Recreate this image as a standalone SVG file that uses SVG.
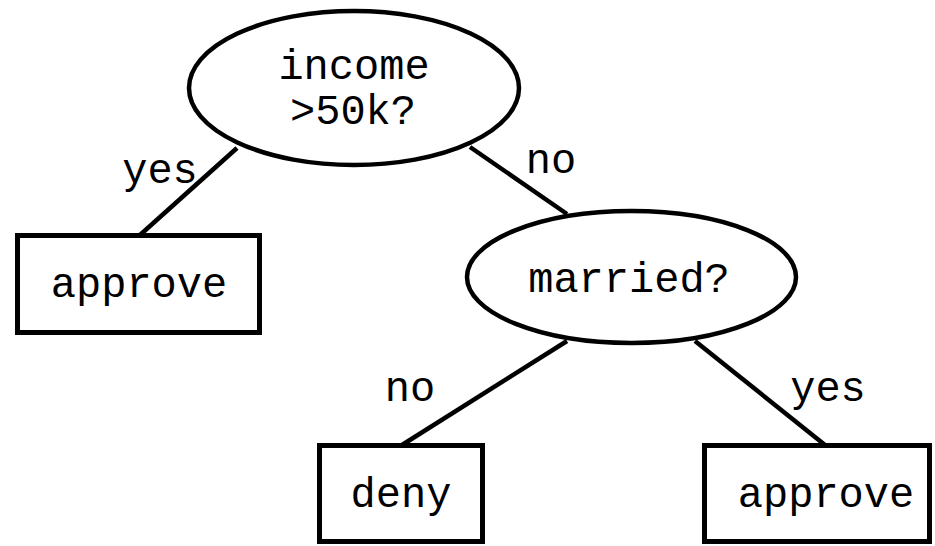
<svg xmlns="http://www.w3.org/2000/svg" width="935" height="546" viewBox="0 0 935 546">
<style>
.shape{fill:#fff;stroke:#000;stroke-width:4.5}
.box{fill:#fff;stroke:#000;stroke-width:5}
.edge{stroke:#000;stroke-width:4.5;fill:none}
text{font-family:"Liberation Mono","Courier New",monospace;font-size:42px;fill:#000;text-anchor:middle}
</style>
<rect width="935" height="546" fill="#fff"/>
<g id="connectors">
<line class="edge" x1="237" y1="148" x2="140" y2="235"/>
<line class="edge" x1="470" y1="147" x2="567" y2="214"/>
<line class="edge" x1="567" y1="341" x2="402" y2="445"/>
<line class="edge" x1="695" y1="341" x2="825" y2="445"/>
<text x="160" y="183">yes</text>
<text x="551" y="173">no</text>
<text x="410" y="401">no</text>
<text x="828" y="401">yes</text>
</g>
<g id="income">
<ellipse class="shape" cx="354" cy="88" rx="165" ry="77"/>
<text x="354" y="79">income</text>
<text x="353" y="124">&gt;50k?</text>
</g>
<g id="approve1">
<rect class="box" x="17.5" y="235.5" width="242" height="97"/>
<text x="139" y="297">approve</text>
</g>
<g id="married">
<ellipse class="shape" cx="631.5" cy="277" rx="164.5" ry="66"/>
<text x="629" y="292">married?</text>
</g>
<g id="deny">
<rect class="box" x="319.5" y="445.5" width="163" height="96"/>
<text x="401" y="507">deny</text>
</g>
<g id="approve2">
<rect class="box" x="704.5" y="445.5" width="225" height="96"/>
<text x="826" y="507">approve</text>
</g>
</svg>
